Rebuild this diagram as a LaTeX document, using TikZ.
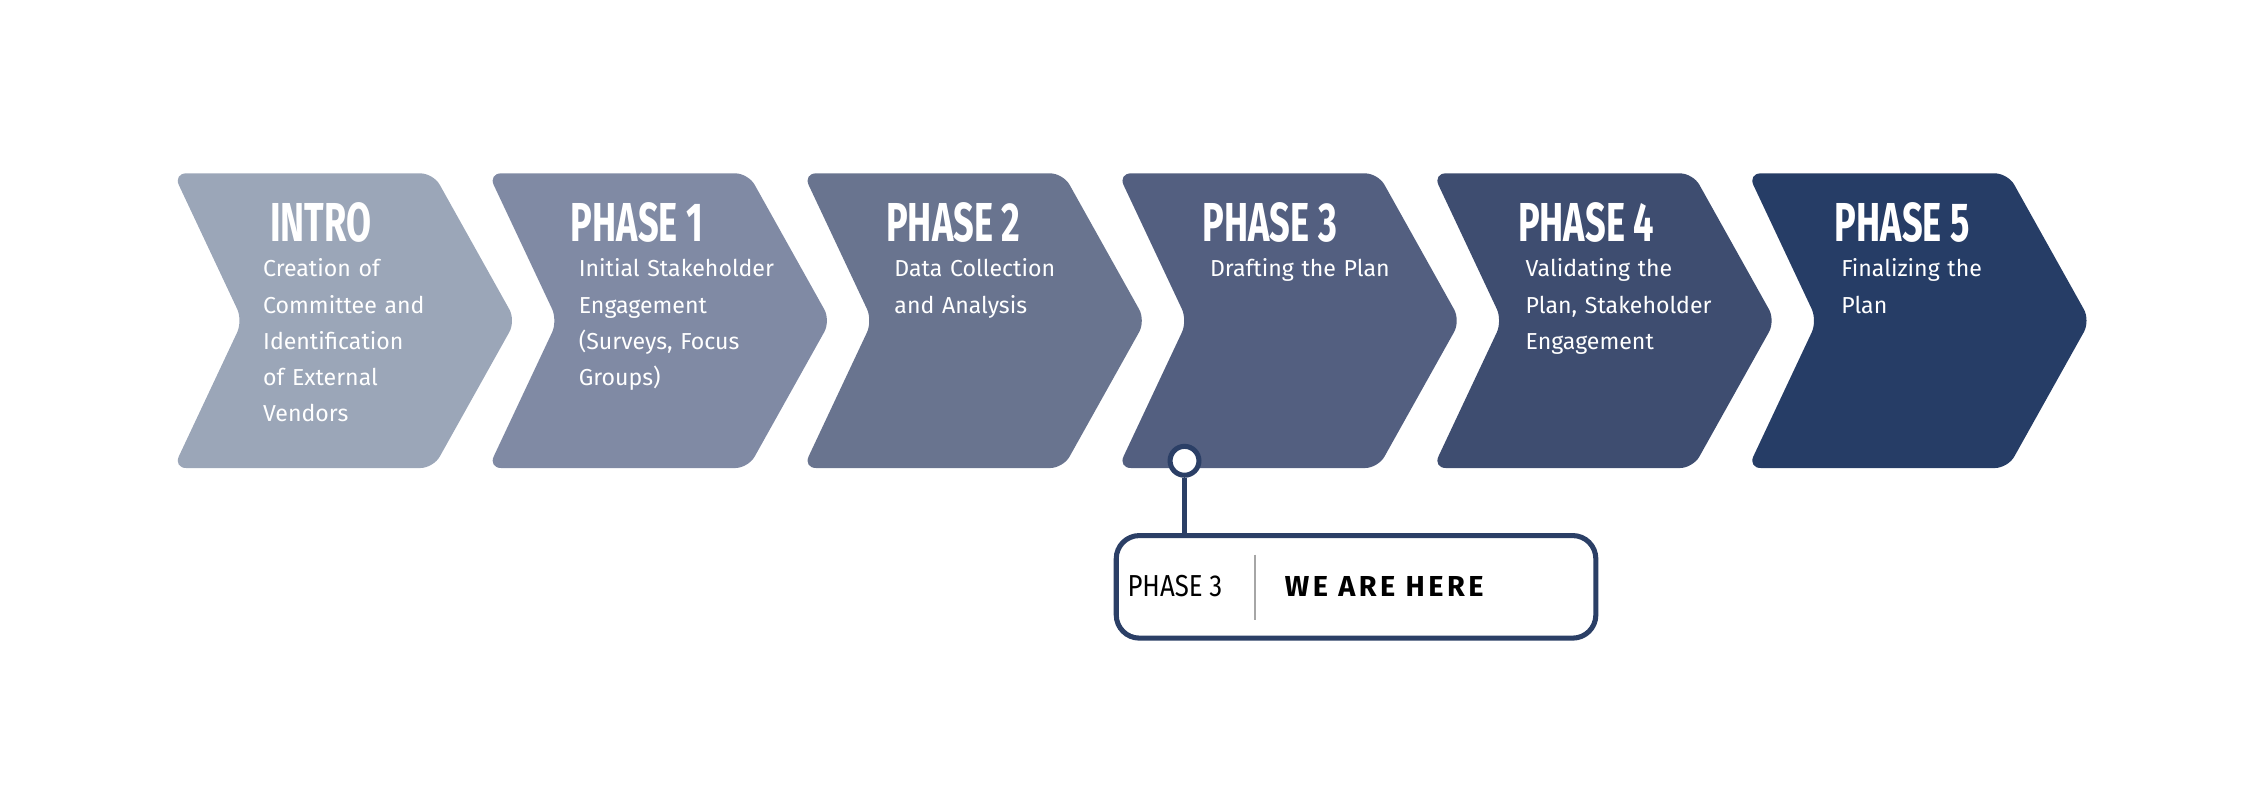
\documentclass[tikz,border=0pt]{standalone}
\usepackage{fontspec}
\setmainfont{Fira Sans}
\newfontfamily\headfont{Fira Sans}[FakeBold=0]
\definecolor{c0}{HTML}{9BA6B8}
\definecolor{c1}{HTML}{808AA4}
\definecolor{c2}{HTML}{69748F}
\definecolor{c3}{HTML}{535F80}
\definecolor{c4}{HTML}{3E4D70}
\definecolor{c5}{HTML}{263D66}
\definecolor{navy}{HTML}{2B3F66}
\tikzset{
  chev/.style={rounded corners=9pt, draw=none},
  head/.style={text=white, font=\headfont\bfseries\fontsize{38}{38}\selectfont, inner sep=0pt},
  body/.style={text=white, font=\fontsize{16}{25}\selectfont, align=left, text width=150pt, inner sep=0pt, anchor=north west},
}
\begin{document}
\begin{tikzpicture}[x=1pt,y=-1pt]
\useasboundingbox (0,0) rectangle (1568,562);
\foreach \k/\h/\b in {0/INTRO/{Creation of\\Committee and\\Identification\\of External\\Vendors},
  1/PHASE 1/{Initial Stakeholder\\Engagement\\(Surveys, Focus\\Groups)},
  2/PHASE 2/{Data Collection\\and Analysis},
  3/PHASE 3/{Drafting the Plan},
  4/PHASE 4/{Validating the\\Plan, Stakeholder\\Engagement},
  5/PHASE 5/{Finalizing the\\Plan}}{
  \fill[c\k, chev] (120+218*\k,120) -- (300+218*\k,120) -- (357+218*\k,222) -- (300+218*\k,324) -- (120+218*\k,324) -- (168+218*\k,222) -- cycle;
  \node[head] (h\k) at (222+219*\k,154) {\scalebox{0.66}[1]{\h}};
  \node[body] (b\k) at (182+218.5*\k,179) {\b};
}
\node[draw=navy, line width=3.5pt, rounded corners=16pt, minimum width=332pt, minimum height=71pt, anchor=north west] (box) at (771,369) {};
\node[font=\fontsize{21}{21}\selectfont, text=black, anchor=west] (p3) at (777,406) {\scalebox{0.85}[1]{PHASE 3}};
\draw[gray!70, line width=1.5pt] (869,384) coordinate (d1) -- (869,429) coordinate (d2);
\node[font=\bfseries\fontsize{20}{20}\selectfont\addfontfeatures{LetterSpace=12}, text=black, anchor=west] (we) at (886,406) {WE ARE HERE};
\node[circle, draw=navy, fill=white, line width=3.5pt, minimum size=20pt, inner sep=0pt] (pin) at (820,319) {};
\draw[navy, line width=3pt] (pin.south) -- (box.north -| pin);
\end{tikzpicture}
\end{document}
